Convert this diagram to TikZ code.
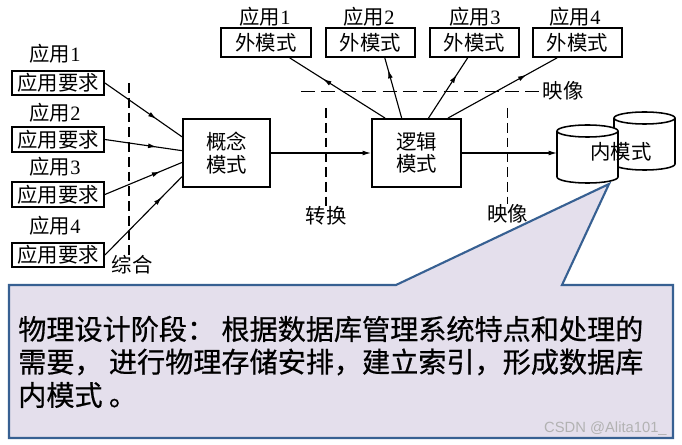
\documentclass[tikz,border=0pt]{standalone}
\usepackage{fontspec}
\setmainfont{Noto Sans CJK SC}
\newfontfamily\digitfont{Liberation Serif}
\newfontfamily\markfont{Liberation Sans}
\newfontfamily\notefont[FakeBold=0.6]{Noto Sans CJK SC}
\usetikzlibrary{arrows.meta,decorations.markings}
\definecolor{calloutfill}{HTML}{E4DFEC}
\definecolor{calloutline}{HTML}{376092}
\tikzset{
  boxnode/.style={draw,line width=1.3pt,minimum height=#1,inner sep=0pt,font=\fontsize{14.5}{16}\selectfont},
  label/.style={inner sep=0pt,font=\fontsize{14.5}{16}\selectfont},
  notetext/.style={anchor=west,inner sep=0pt,font=\notefont\fontsize{20}{22}\selectfont},
  midarrow/.style={postaction={decorate},decoration={markings,mark=at position #1 with {\arrow{Latex[length=6pt,width=3.5pt]}}}},
  endarrow/.style={-{Latex[length=6pt,width=3.5pt]}},
  cutline/.style={dashed,dash pattern=on 7pt off 3.5pt,line width=0.9pt},
  cutlong/.style={dashed,dash pattern=on 10pt off 4.5pt,line width=0.7pt},
  linkline/.style={line width=0.8pt}
}
\begin{document}
\begin{tikzpicture}[x=0.025cm,y=-0.025cm]
\useasboundingbox (0,0) rectangle (682,445);
\fill[white] (0,0) rectangle (682,445);
% left column
\node[label] (app1) at (55,54) {应用{\digitfont 1}};
\node[label] (app2) at (55,113) {应用{\digitfont 2}};
\node[label] (app3) at (55,167) {应用{\digitfont 3}};
\node[label] (app4) at (55,226) {应用{\digitfont 4}};
\node[boxnode=0.62cm,minimum width=2.3cm] (req1) at (58,83) {应用要求};
\node[boxnode=0.62cm,minimum width=2.3cm] (req2) at (58,139.5) {应用要求};
\node[boxnode=0.62cm,minimum width=2.3cm] (req3) at (58,194.5) {应用要求};
\node[boxnode=0.62cm,minimum width=2.3cm] (req4) at (58,255) {应用要求};
\node[boxnode=1.7cm,minimum width=2.18cm,align=center] (concept) at (226.5,153) {概念\\模式};
% top row
\node[label] (top1) at (265,17) {应用{\digitfont 1}};
\node[label] (top2) at (369,17) {应用{\digitfont 2}};
\node[label] (top3) at (475,17) {应用{\digitfont 3}};
\node[label] (top4) at (575,17) {应用{\digitfont 4}};
\node[boxnode=0.72cm,minimum width=2.23cm] (ext1) at (266,42.5) {外模式};
\node[boxnode=0.72cm,minimum width=2.23cm] (ext2) at (370.5,42.5) {外模式};
\node[boxnode=0.72cm,minimum width=2.23cm] (ext3) at (474.5,42.5) {外模式};
\node[boxnode=0.72cm,minimum width=2.23cm] (ext4) at (577.5,42.5) {外模式};
\node[boxnode=1.7cm,minimum width=2.23cm,align=center] (logic) at (416.5,153) {逻辑\\模式};
% cylinders
\draw[line width=1.1pt,fill=white] (614,118) -- (614,164) arc[start angle=180,end angle=360,x radius=30.5,y radius=-6] -- (675,118);
\draw[line width=1.1pt,fill=white] (644.5,118) ellipse[x radius=30.5,y radius=6];
\draw[line width=1.1pt,fill=white] (557,131) -- (557,177) arc[start angle=180,end angle=360,x radius=30.5,y radius=-6] -- (618,131);
\draw[line width=1.1pt,fill=white] (587.5,131) ellipse[x radius=30.5,y radius=6];
\coordinate (store) at (557,153);
\node[label] (inner) at (621,152) {内模式};
% dashed lines
\coordinate (v1a) at (129,83);
\coordinate (v1b) at (129,255);
\coordinate (h1a) at (301,91);
\node[label] (map1) at (563,91) {映像};
\coordinate (v2a) at (326,108);
\node[label] (conv) at (326,216) {转换};
\coordinate (v3a) at (507.5,108);
\node[label] (map2) at (507.5,214) {映像};
\node[label] (merge) at (132,265) {综合};
\draw[cutline] (v1a) -- (v1b);
\draw[cutlong] (h1a) -- (map1.west);
\draw[cutline] (v2a) -- (conv.north);
\draw[cutline] (v3a) -- (map2.north);
% connectors
\draw[linkline,midarrow=0.67] (req1.east) -- (concept.160);
\draw[linkline,midarrow=0.67] (req2.east) -- (concept.177);
\draw[linkline,midarrow=0.72] (req3.east) -- (concept.192);
\draw[linkline,midarrow=0.74] (req4.east) -- (concept.208);
\draw[linkline,endarrow] (concept.east) -- (logic.west);
\draw[linkline,endarrow] (logic.east) -- (store);
\draw[linkline,midarrow=0.65] (logic.132) -- (ext1.-33);
\draw[linkline,midarrow=0.8] (logic.113) -- (ext2.-47);
\draw[linkline,midarrow=0.72] (logic.71) -- (ext3.-114);
\draw[linkline,midarrow=0.72] (logic.48) -- (ext4.-143);
% callout
\draw[line width=1.5pt,color=calloutline,fill=calloutfill] (9,285) -- (396,285) -- (609,184) -- (562,285) -- (673,285) -- (673,438) -- (9,438) -- cycle;
\node[notetext] (note1) at (18,329) {物理设计阶段： 根据数据库管理系统特点和处理的};
\node[notetext] (note2) at (18,362) {需要， 进行物理存储安排，建立索引，形成数据库};
\node[notetext] (note3) at (18,395) {内模式 。};
\node[anchor=east,inner sep=0pt,text=gray!60,font=\markfont\fontsize{10.5}{12}\selectfont] (mark1) at (667,429) {CSDN @Alita101\_};
\end{tikzpicture}
\end{document}
